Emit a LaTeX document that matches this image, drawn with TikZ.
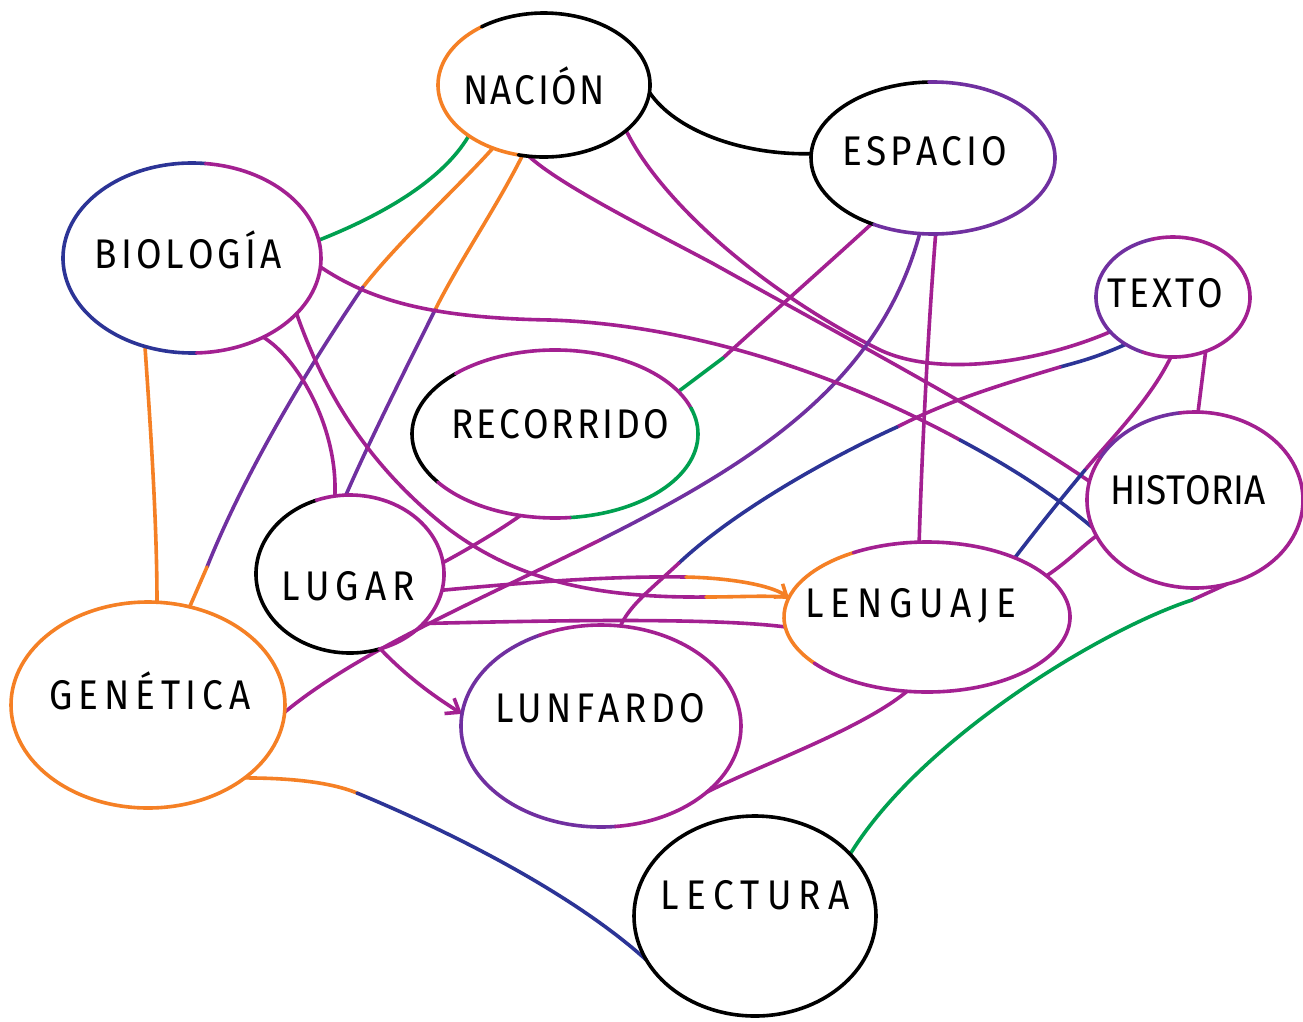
\documentclass[tikz,border=0pt]{standalone}
\usepackage{fontspec}
\setmainfont{Fira Sans}
\usetikzlibrary{shapes.geometric,arrows.meta}
\definecolor{cmag}{RGB}{163,32,145}
\definecolor{cpur}{RGB}{112,48,160}
\definecolor{cblu}{RGB}{44,52,150}
\definecolor{cgrn}{RGB}{0,160,80}
\definecolor{cora}{RGB}{245,128,37}
\newcommand\outl[6]{\draw[#1] (#2.center) ++(#5:#3pt and #4pt) arc[start angle=#5,end angle=#6,x radius=#3pt,y radius=#4pt];}
\newcommand\spr[2]{\scalebox{1}[1.12]{\makebox[#1pt][s]{#2}}}
\begin{document}
\begin{tikzpicture}[x=1pt,y=-1pt,line width=3.6pt,line cap=round,
  ell/.style={ellipse,draw=none,inner sep=0pt,outer sep=0pt},
  lbl/.style={inner sep=0pt,anchor=base,font=\fontsize{37}{40}\selectfont}]
\useasboundingbox[fill=white] (0,0) rectangle (1303,1021);
% nodes
\node[ell,minimum width=212pt,minimum height=144pt] (nacion) at (544,85) {};
\node[ell,minimum width=244pt,minimum height=152pt] (espacio) at (933,158) {};
\node[ell,minimum width=258pt,minimum height=190pt] (biologia) at (192,258) {};
\node[ell,minimum width=154pt,minimum height=120pt] (texto) at (1173,297) {};
\node[ell,minimum width=286pt,minimum height=168pt] (recorrido) at (555,434) {};
\node[ell,minimum width=216pt,minimum height=176pt] (historia) at (1195,500) {};
\node[ell,minimum width=188pt,minimum height=158pt] (lugar) at (350,574) {};
\node[ell,minimum width=286pt,minimum height=150pt] (lenguaje) at (927,617) {};
\node[ell,minimum width=274pt,minimum height=206pt] (genetica) at (148,705) {};
\node[ell,minimum width=280pt,minimum height=202pt] (lunfardo) at (601,726) {};
\node[ell,minimum width=242pt,minimum height=200pt] (lectura) at (755,916) {};
% connectors
\draw[black] (nacion.356) .. controls (675,130) and (740,155) .. (espacio.178);
\draw[cgrn] (nacion.214) .. controls (440,185) and (370,220) .. (biologia.8);
\coordinate (ng1) at (363,287); \coordinate (ng2) at (207,567);
\draw[cora] (nacion.231) .. controls (460,185) and (400,240) .. (ng1);
\draw[cpur] (ng1) .. controls (320,350) and (250,460) .. (ng2);
\draw[cora] (ng2) -- (genetica.67);
\coordinate (nl1) at (435,310);
\draw[cora] (nacion.253) .. controls (495,210) and (460,260) .. (nl1);
\draw[cpur] (nl1) .. controls (405,370) and (370,440) .. (lugar.93);
\draw[cmag] (nacion.258) .. controls (560,185) and (650,230) .. (712,263) .. controls (850,340) and (1000,420) .. (historia.170);
\draw[cmag] (nacion.331) .. controls (660,200) and (760,290) .. (880,350) .. controls (940,378) and (1040,362) .. (texto.209);
\coordinate (er1) at (723,358);
\draw[cmag] (espacio.227) .. controls (830,262) and (770,315) .. (er1);
\draw[cgrn] (er1) -- (recorrido.19);
\coordinate (eg1) at (600,540);
\draw[cpur] (espacio.260) .. controls (880,380) and (760,460) .. (eg1);
\draw[cmag] (eg1) .. controls (480,600) and (360,650) .. (genetica.357);
\draw[cmag] (espacio.272) .. controls (928,330) and (922,450) .. (lenguaje.96);
\draw[cora] (biologia.242) .. controls (150,420) and (157,520) .. (genetica.85);
\coordinate (bh1) at (960,440);
\draw[cmag] (biologia.356) .. controls (370,300) and (430,318) .. (550,320) .. controls (700,325) and (850,380) .. (bh1);
\draw[cblu] (bh1) .. controls (1020,472) and (1060,500) .. (historia.195);
\draw[cmag] (biologia.312) .. controls (300,360) and (338,430) .. (lugar.101);
\coordinate (bl1) at (706,597);
\draw[cmag] (biologia.332) .. controls (320,380) and (360,460) .. (450,530) .. controls (520,582) and (600,598) .. (bl1);
\draw[cora] (bl1) .. controls (740,597) and (770,595) .. (lenguaje.172);
\coordinate (ll1) at (686,577);
\draw[cmag] (lugar.350) .. controls (530,582) and (610,576) .. (ll1);
\draw[cora,-{Straight Barb[length=10pt,width=16pt]}] (ll1) .. controls (730,578) and (770,585) .. (lenguaje.172);
\draw[cmag] (lugar.326) .. controls (500,622) and (700,616) .. (lenguaje.184);
\draw[cmag] (lugar.7) .. controls (470,548) and (500,530) .. (recorrido.247);
\draw[cmag,-{Straight Barb[length=12pt,width=18pt]}] (lugar.292) .. controls (410,680) and (440,700) .. (lunfardo.175);
\draw[cmag] (texto.301) -- (historia.88);
\coordinate (tl1) at (1085,470);
\draw[cmag] (texto.268) .. controls (1150,400) and (1110,440) .. (tl1);
\draw[cblu] (tl1) .. controls (1060,500) and (1040,525) .. (lenguaje.34);
\coordinate (tn1) at (1060,367); \coordinate (tn2) at (897,427); \coordinate (tn3) at (679,563);
\draw[cblu] (texto.225) .. controls (1095,358) and (1078,362) .. (tn1);
\draw[cmag] (tn1) .. controls (1000,385) and (950,400) .. (tn2);
\draw[cblu] (tn2) .. controls (820,462) and (730,515) .. (tn3);
\draw[cmag] (tn3) .. controls (650,590) and (630,605) .. (lunfardo.79);
\draw[cmag] (historia.200) .. controls (1080,548) and (1070,560) .. (lenguaje.19);
\coordinate (hl1) at (1192,600);
\draw[cmag] (historia.291) -- (hl1);
\draw[cgrn] (hl1) .. controls (1100,630) and (920,740) .. (lectura.33);
\draw[cmag] (lenguaje.255) .. controls (860,730) and (760,765) .. (lunfardo.328);
\coordinate (gl1) at (357,793);
\draw[cora] (genetica.323) .. controls (290,778) and (330,782) .. (gl1);
\draw[cblu] (gl1) .. controls (470,840) and (580,900) .. (lectura.202);
% outlines
\outl{cora}{nacion}{106}{72}{126}{256}
\outl{black}{nacion}{106}{72}{256}{486}
\outl{black}{espacio}{122}{76}{92}{241}
\outl{cpur}{espacio}{122}{76}{241}{452}
\outl{cblu}{biologia}{129}{95}{84}{272}
\outl{cmag}{biologia}{129}{95}{272}{444}
\outl{cpur}{texto}{77}{60}{106}{247}
\outl{cmag}{texto}{77}{60}{247}{466}
\outl{black}{recorrido}{143}{84}{134}{215}
\outl{cmag}{recorrido}{143}{84}{18}{134}
\outl{cgrn}{recorrido}{143}{84}{276}{378}
\outl{cmag}{recorrido}{143}{84}{215}{276}
\outl{cpur}{historia}{108}{88}{98}{152}
\outl{cmag}{historia}{108}{88}{152}{458}
\outl{black}{lugar}{94}{79}{111}{288}
\outl{cmag}{lugar}{94}{79}{288}{471}
\outl{cora}{lenguaje}{143}{75}{121}{218}
\outl{cmag}{lenguaje}{143}{75}{218}{481}
\outl{cora}{genetica}{137}{103}{0}{360}
\outl{cpur}{lunfardo}{140}{101}{116}{276}
\outl{cmag}{lunfardo}{140}{101}{276}{476}
\outl{black}{lectura}{121}{100}{0}{360}
% labels
\node[lbl] (nacionT) at (534,104) {\spr{142}{N\hfil A\hfil C\hfil I\hfil Ó\hfil N}};
\node[lbl] (espacioT) at (925,165) {\spr{165}{E\hfil S\hfil P\hfil A\hfil C\hfil I\hfil O}};
\node[lbl] (biologiaT) at (188,268) {\spr{187}{B\hfil I\hfil O\hfil L\hfil O\hfil G\hfil Í\hfil A}};
\node[lbl] (textoT) at (1165,307) {\spr{116}{T\hfil E\hfil X\hfil T\hfil O}};
\node[lbl] (recorridoT) at (560,438) {\spr{218}{R\hfil E\hfil C\hfil O\hfil R\hfil R\hfil I\hfil D\hfil O}};
\node[lbl] (historiaT) at (1188,504) {\spr{156}{H\hfil I\hfil S\hfil T\hfil O\hfil R\hfil I\hfil A}};
\node[lbl] (lugarT) at (348,600) {\spr{133}{L\hfil U\hfil G\hfil A\hfil R}};
\node[lbl] (lenguajeT) at (911,617) {\spr{211}{L\hfil E\hfil N\hfil G\hfil U\hfil A\hfil J\hfil E}};
\node[lbl] (geneticaT) at (150,709) {\spr{201}{G\hfil E\hfil N\hfil É\hfil T\hfil I\hfil C\hfil A}};
\node[lbl] (lunfardoT) at (600,722) {\spr{210}{L\hfil U\hfil N\hfil F\hfil A\hfil R\hfil D\hfil O}};
\node[lbl] (lecturaT) at (755,909) {\spr{189}{L\hfil E\hfil C\hfil T\hfil U\hfil R\hfil A}};
\end{tikzpicture}
\end{document}
